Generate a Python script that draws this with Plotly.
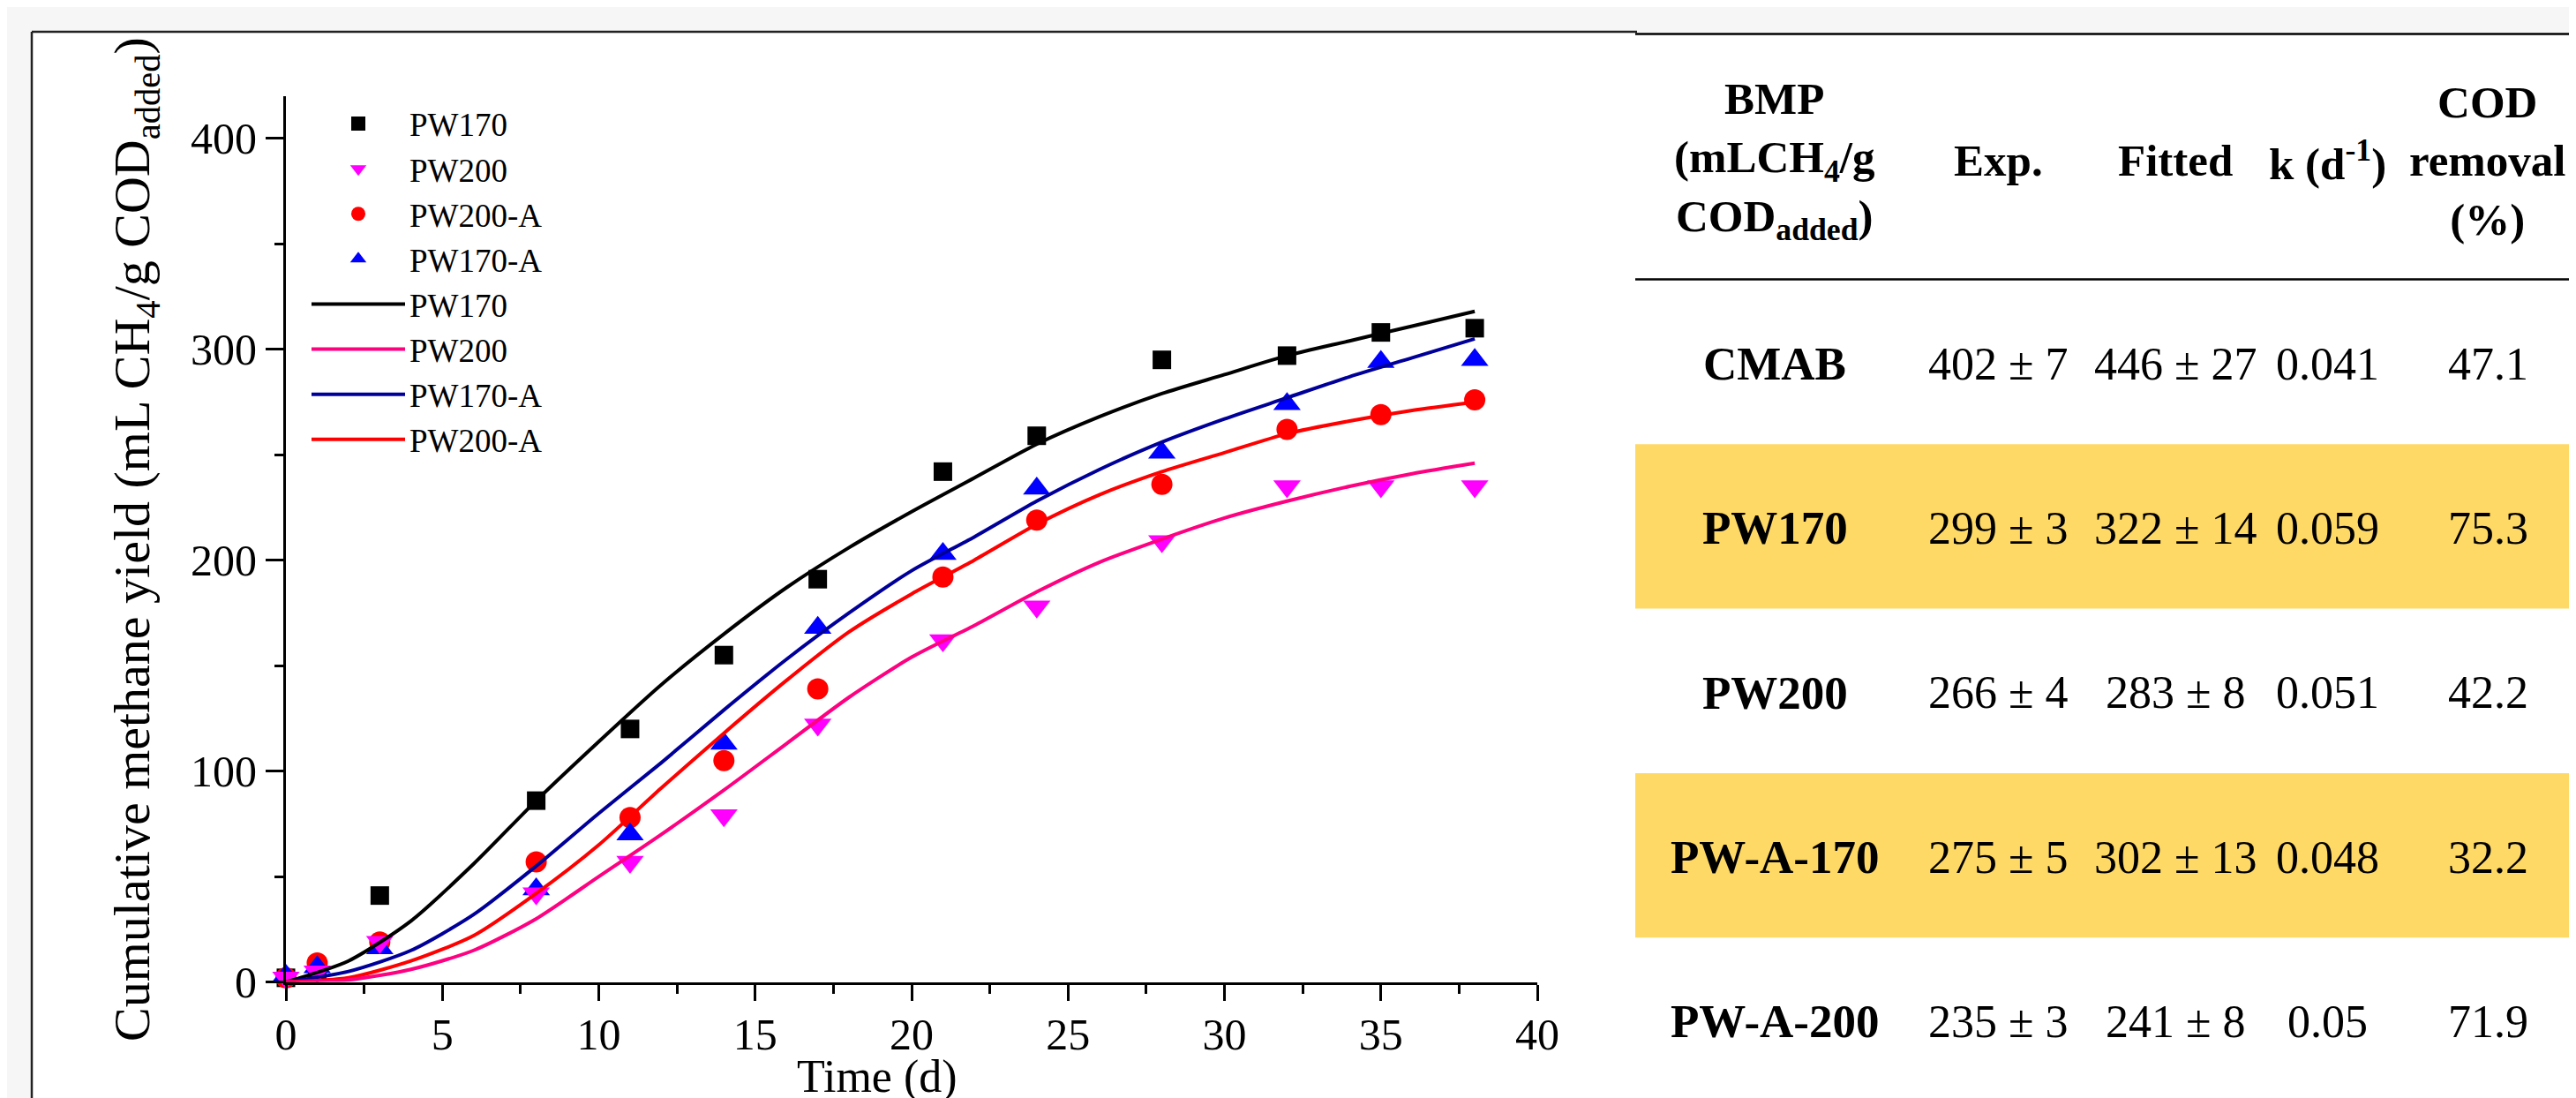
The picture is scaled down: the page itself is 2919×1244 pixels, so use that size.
import plotly.graph_objects as go

W, H = 2919, 1244
OX, OY = 8, 8  # page body margin offset
FONT = "Liberation Serif, Times New Roman, serif"

# ---------------- data ----------------
days = [0, 1, 3, 8, 11, 14, 17, 21, 24, 28, 32, 35, 38]
pw170 = [2, 5, 41, 86, 120, 155, 191, 242, 259, 295, 297, 308, 310]
pw200 = [2, 5, 19, 42, 57, 79, 122, 162, 178, 209, 235, 235, 235]
pw200a = [2, 9, 19, 57, 78, 105, 139, 192, 219, 236, 262, 269, 276]
pw170a = [3, 7, 16, 44, 70, 113, 168, 203, 234, 251, 274, 294, 295]

fit_days = [0, 2, 4, 6, 8, 10, 12, 14, 16, 18, 20, 22, 24, 26, 28, 30, 32, 34, 36, 38]
fit_pw170 = [0, 10, 29, 56, 86, 114, 141, 165, 187, 206, 223, 239, 255, 268, 279, 288, 297, 304, 311, 318]
fit_pw200 = [0, 1, 6, 15, 30, 50, 70, 91, 113, 135, 154, 169, 185, 199, 210, 220, 228, 235, 241, 246]
fit_pw170a = [0, 5, 15, 32, 55, 80, 104, 129, 153, 175, 195, 211, 228, 243, 256, 267, 277, 287, 296, 305]
fit_pw200a = [0, 2, 10, 22, 42, 65, 92, 118, 143, 166, 184, 200, 217, 231, 242, 251, 260, 266, 271, 275]

x_ticks = [0, 5, 10, 15, 20, 25, 30, 35, 40]
y_ticks = [0, 100, 200, 300, 400]

samples = ["CMAB", "PW170", "PW200", "PW-A-170", "PW-A-200"]
exp_mean = [402, 299, 266, 275, 235]
exp_sd = [7, 3, 4, 5, 3]
fit_mean = [446, 322, 283, 302, 241]
fit_sd = [27, 14, 8, 13, 8]
k_vals = ["0.041", "0.059", "0.051", "0.048", "0.05"]
cod_removal = ["47.1", "75.3", "42.2", "32.2", "71.9"]
highlight = [False, True, False, True, False]

headers = [
    "<b>BMP<br>(mLCH<sub>4</sub>/g<br>COD<sub>added</sub>)</b>",
    "<b>Exp.</b>",
    "<b>Fitted</b>",
    "<b>k (d<sup>-1</sup>)</b>",
    "<b>COD<br>removal<br>(%)</b>",
]


def px(x):
    return (x - OX) / W


def py(y):
    return 1 - (y - OY) / H


fig = go.Figure()

# markers (drawn first; lines on top)
marker_specs = [
    ("PW170", pw170, "square", "#000000", 21, 1),
    ("PW200-A", pw200a, "circle", "#FF0000", 24, 3),
    ("PW170-A", pw170a, "triangle-up", "#0000FF", 27, 4),
    ("PW200", pw200, "triangle-down", "#FF00FF", 27, 2),
]
for name, vals, sym, col, size, rank in marker_specs:
    fig.add_trace(go.Scatter(
        x=days, y=vals, mode="markers", name=name, legendrank=rank,
        marker=dict(symbol=sym, color=col, size=size, line=dict(width=0)),
        cliponaxis=False,
    ))

line_specs = [
    ("PW170", fit_pw170, "#000000", 5),
    ("PW170-A", fit_pw170a, "#000099", 7),
    ("PW200-A", fit_pw200a, "#FF0000", 8),
    ("PW200", fit_pw200, "#FF0080", 6),
]
for name, vals, col, rank in line_specs:
    fig.add_trace(go.Scatter(
        x=fit_days, y=vals, mode="lines", name=name, legendrank=rank,
        line=dict(color=col, width=4, shape="spline", smoothing=0.7),
    ))

axis_common = dict(
    showgrid=False, zeroline=False, showline=True, linecolor="black", linewidth=3,
    ticks="outside", tickcolor="black", tickwidth=3, automargin=False,
    tickfont=dict(family=FONT, size=50, color="black"),
)
fig.update_xaxes(
    range=[0, 40], domain=[px(324), px(1742)], tickvals=x_ticks, ticklen=18,
    ticklabelstandoff=-5,
    minor=dict(ticks="outside", ticklen=10, tickwidth=3, tickcolor="black", dtick=2.5, tick0=0, showgrid=False),
    **axis_common,
)
fig.update_yaxes(
    range=[0, 420], domain=[py(1112.6), py(109)], tickvals=y_ticks, ticklen=20,
    minor=dict(ticks="outside", ticklen=10, tickwidth=3, tickcolor="black", dtick=50, tick0=0, showgrid=False),
    **axis_common,
)

shapes = []
# background strip for the page margin area
shapes.append(dict(type="rect", xref="paper", yref="paper", x0=-0.01, x1=1.01, y0=-0.02, y1=1.01,
                   fillcolor="#F6F6F6", line=dict(width=0), layer="below"))
# left white panel with border
shapes.append(dict(type="rect", xref="paper", yref="paper", x0=px(36), x1=px(1855), y0=-0.02, y1=py(36),
                   fillcolor="white", line=dict(width=0), layer="below"))
shapes.append(dict(type="line", xref="paper", yref="paper", x0=px(36), x1=px(1855), y0=py(36), y1=py(36),
                   line=dict(color="#222222", width=2.5), layer="below"))
shapes.append(dict(type="line", xref="paper", yref="paper", x0=px(36), x1=px(36), y0=-0.02, y1=py(36),
                   line=dict(color="#222222", width=2.5), layer="below"))
# table panel
shapes.append(dict(type="rect", xref="paper", yref="paper", x0=px(1853), x1=1.01, y0=-0.02, y1=py(38),
                   fillcolor="white", line=dict(width=0), layer="below"))
row_top = 317
row_h = 186.3
for i, hl in enumerate(highlight):
    if hl:
        shapes.append(dict(type="rect", xref="paper", yref="paper", x0=px(1853), x1=1.01,
                           y0=py(row_top + (i + 1) * row_h), y1=py(row_top + i * row_h),
                           fillcolor="#FED966", line=dict(width=0), layer="below"))
shapes.append(dict(type="line", xref="paper", yref="paper", x0=px(1853), x1=1.01, y0=py(38.5), y1=py(38.5),
                   line=dict(color="black", width=2.5), layer="below"))
shapes.append(dict(type="line", xref="paper", yref="paper", x0=px(1853), x1=1.01, y0=py(316.5), y1=py(316.5),
                   line=dict(color="black", width=2.5), layer="below"))

annotations = []
# axis titles
annotations.append(dict(text="Time (d)", x=px(994), y=py(1220), xref="paper", yref="paper",
                        showarrow=False, xanchor="center", yanchor="middle",
                        font=dict(family=FONT, size=52, color="black")))
annotations.append(dict(text="Cumulative methane yield (mL CH<sub>4</sub>/g COD<sub>added</sub>)",
                        x=px(153), y=py(611), xref="paper", yref="paper", textangle=-90,
                        showarrow=False, xanchor="center", yanchor="middle",
                        font=dict(family=FONT, size=58, color="black")))
# table
col_x = [2011, 2264, 2465, 2637, 2819]
for cx, h in zip(col_x, headers):
    annotations.append(dict(text=h, x=px(cx), y=py(182), xref="paper", yref="paper", showarrow=False,
                            xanchor="center", yanchor="middle",
                            font=dict(family=FONT, size=51, color="black")))
for i, s in enumerate(samples):
    yc = row_top + (i + 0.5) * row_h + 2
    cells = [
        f"<b>{s}</b>",
        f"{exp_mean[i]} ± {exp_sd[i]}",
        f"{fit_mean[i]} ± {fit_sd[i]}",
        k_vals[i],
        cod_removal[i],
    ]
    for j, (cx, c) in enumerate(zip(col_x, cells)):
        annotations.append(dict(text=c, x=px(cx), y=py(yc), xref="paper", yref="paper", showarrow=False,
                                xanchor="center", yanchor="middle",
                                font=dict(family=FONT, size=53 if j == 0 else 52, color="black")))

fig.update_layout(
    width=W, height=H, margin=dict(l=0, r=0, t=0, b=0, autoexpand=False),
    paper_bgcolor="#F6F6F6", plot_bgcolor="rgba(0,0,0,0)",
    shapes=shapes, annotations=annotations,
    showlegend=True,
    legend=dict(x=px(348), y=py(109.5), xanchor="left", yanchor="top",
                bgcolor="rgba(0,0,0,0)", borderwidth=0, itemwidth=106,
                font=dict(family=FONT, size=37, color="black"), traceorder="normal",
                tracegroupgap=0),
)

fig.write_html("out.html")
